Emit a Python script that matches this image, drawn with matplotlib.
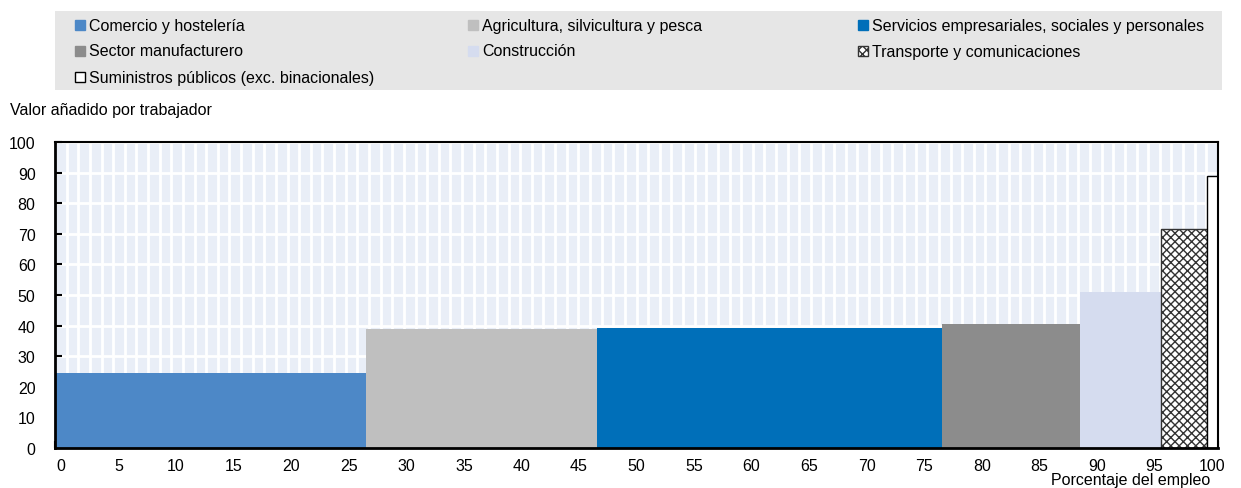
import numpy as np
import matplotlib
matplotlib.use("Agg")
import matplotlib.pyplot as plt
from matplotlib.patches import Rectangle
from matplotlib.transforms import ScaledTranslation

plt.rcParams['font.family'] = ['Liberation Sans', 'DejaVu Sans']
plt.rcParams['hatch.linewidth'] = 1.0

# sectors, ordered as drawn from left to right
sectors = ["Comercio y hostelería", "Agricultura, silvicultura y pesca",
           "Servicios empresariales, sociales y personales", "Sector manufacturero",
           "Construcción", "Transporte y comunicaciones",
           "Suministros públicos (exc. binacionales)"]
# share of employment (%) for each sector
emp_share = [26.7, 19.9, 29.7, 11.8, 7.0, 3.95, 0.95]
# value added per worker
value_added = [24.6, 38.9, 39.2, 40.5, 51.0, 71.7, 88.8]

colors = ["#4d88c7", "#bfbfbf", "#006fb9", "#8c8c8c", "#d5dcef", "white", "white"]
hatches = [None, None, None, None, None, "xxxx", None]
edges = ["none", "none", "none", "none", "none", "#333333", "black"]

W, H = 1241, 489
fig = plt.figure(figsize=(W / 100, H / 100), dpi=100)
ax = fig.add_axes([55/W, 1-449/H, 1163/W, 306/H])

left = np.concatenate([[0], np.cumsum(emp_share)[:-1]])
for i in range(len(sectors)):
    ax.bar(left[i], value_added[i], width=emp_share[i], align='edge',
           color=colors[i], hatch=hatches[i], edgecolor=edges[i],
           linewidth=0 if edges[i] == "none" else 1.0, zorder=2)

ax.set_facecolor("#e9eef7")
ax.set_xlim(0, 100)
ax.set_ylim(0, 100)
xt = np.arange(0, 101, 5)
ax.set_xticks(xt)
ax.set_xticks(np.arange(0, 101, 1), minor=True)
ax.set_yticks(np.arange(0, 101, 10))
ax.grid(True, which='both', axis='x', color='white', linewidth=2, zorder=0)
ax.grid(True, which='major', axis='y', color='white', linewidth=2, zorder=0)
ax.set_axisbelow(True)

ax.tick_params(axis='x', which='both', direction='in', length=5, width=1.5,
               color='black', labelsize=11.5, pad=7)
ax.tick_params(axis='y', which='major', direction='in', length=5, width=1.5,
               labelsize=11.5, pad=14)
for s in ['left', 'bottom']:
    ax.spines[s].set_linewidth(2)
for s in ['top', 'right']:
    ax.spines[s].set_linewidth(1.5)
# tick labels are spread slightly narrower than the ticks in the original
for v, lab in zip(xt, ax.get_xticklabels()):
    dx = (6 - 0.12 * v) / 100
    lab.set_transform(lab.get_transform() + ScaledTranslation(dx, 0, fig.dpi_scale_trans))

fig.text(10/W, 1-111/H, "Valor añadido por trabajador", fontsize=11.5,
         va='center', ha='left')
fig.text(1210/W, 1-481/H, "Porcentaje del empleo", fontsize=11.5,
         va='center', ha='right')

# legend on grey band, filled row by row
fig.add_artist(Rectangle((55/W, 1-91/H), 1167/W, 79/H, transform=fig.transFigure,
                         facecolor="#e6e6e6", edgecolor='none', zorder=0))
col_x = [75, 468, 858]
row_y = [26, 52, 78]
for i, name in enumerate(sectors):
    r, c = divmod(i, 3)
    x, y = col_x[c], row_y[r]
    fig.add_artist(Rectangle((x/W, 1-(y+5)/H), 10/W, 10/H, transform=fig.transFigure,
                             facecolor=colors[i], hatch=hatches[i],
                             edgecolor=(edges[i] if edges[i] != "none" else colors[i]),
                             linewidth=1.0, zorder=1))
    fig.text((x+14)/W, 1-y/H, name, fontsize=11.5, va='center', ha='left')

fig.savefig("out.png", dpi=100)
